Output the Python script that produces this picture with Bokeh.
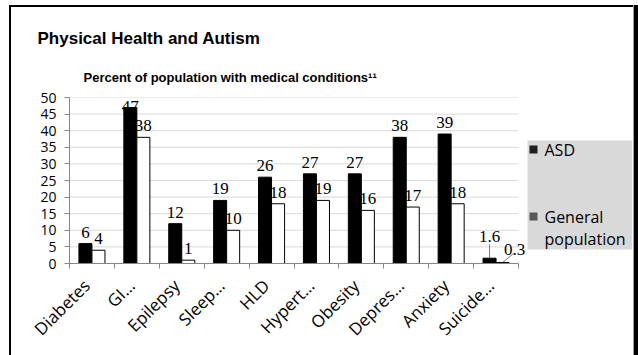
from bokeh.plotting import figure
from bokeh.models import (ColumnDataSource, Range1d, LinearAxis, FixedTicker, LabelSet,
                          Label, BoxAnnotation, Title, Grid)
from bokeh.transform import dodge
from bokeh.embed import file_html
from bokeh.resources import INLINE
import math

# ---------------- data ----------------
categories = ["Diabetes", "GI…", "Epilepsy", "Sleep…", "HLD", "Hypert…",
              "Obesity", "Depres…", "Anxiety", "Suicide…"]
asd = [6, 47, 12, 19, 26, 27, 27, 38, 39, 1.6]
general = [4, 38, 1, 10, 18, 19, 16, 17, 18, 0.3]
asd_text = ["6", "47", "12", "19", "26", "27", "27", "38", "39", "1.6"]
general_text = ["4", "38", "1", "10", "18", "19", "16", "17", "18", "0.3"]
y_ticks = [0, 5, 10, 15, 20, 25, 30, 35, 40, 45, 50]
series_names = ["ASD", "General population"]
title_text = "Physical Health and Autism"
subtitle_text = "Percent of population with medical conditions¹¹"

# ---------------- layout ----------------
W, H = 638, 355
FL, FR, FT, FB = 69, 518, 97, 263   # chart-area edges (canvas px)
FR_EXT = 632                        # frame extended to hold the legend
plot_h = FB - FT
px_per_unit = plot_h / 50.0
n = len(categories)
px_per_cat = (FR - FL) / n
x_end = n * (FR_EXT - FL) / (FR - FL)
xpos = [i + 0.5 for i in range(n)]            # category centres on a 0..n axis
bounds = list(range(n + 1))                   # category boundaries
label_pos = [round(x - 0.12, 2) for x in xpos]  # rotated-label anchors

FONT = "Open Sans"

def dx(cx):   # canvas px -> x data
    return (cx - FL) / px_per_cat

def dy(cy):   # canvas px -> y data
    return (FB - cy) / px_per_unit

p = figure(width=W, height=H,
           x_range=Range1d(0, x_end), y_range=Range1d(0, 50),
           output_backend="svg", toolbar_location=None,
           x_axis_location=None, y_axis_location=None,
           min_border_left=FL, min_border_right=W - FR_EXT,
           min_border_top=FT, min_border_bottom=H - FB)
# drop the default grids (they would span the legend area too)
p.center = [r for r in p.center if not isinstance(r, Grid)]
p.outline_line_color = None
p.background_fill_color = "white"
p.border_fill_alpha = 0
# slide frame lines (CSS inset shadows, outside the plot frame)
p.styles = {
    "background-color": "white",
    "box-shadow": ("inset 9px 5px 0 0 white, inset -4px 0 0 0 black, "
                   "inset -5px 0 0 0 #a0a0a0, inset 11px 7px 0 0 black"),
}

# gridlines, limited to the category area
p.segment(x0=[0] * len(y_ticks), x1=[n] * len(y_ticks), y0=y_ticks, y1=y_ticks,
          line_color="#d9d9d9", line_width=1, level="underlay")

# y axis
yax = LinearAxis(ticker=FixedTicker(ticks=y_ticks),
                 axis_line_color="#868686", major_tick_line_color="#868686",
                 major_tick_out=5, major_tick_in=0, minor_tick_line_color=None,
                 major_label_text_font=FONT, major_label_text_font_size="14px",
                 major_label_text_color="black", major_label_standoff=8)
p.add_layout(yax, "left")

# x axis: labels near category centres, tick marks at boundaries
xax = LinearAxis(ticker=FixedTicker(ticks=label_pos, minor_ticks=bounds), bounds=(0, n),
                 major_label_overrides={x: c for x, c in zip(label_pos, categories)},
                 axis_line_color="#868686", major_tick_line_color=None,
                 minor_tick_line_color="#868686", minor_tick_out=5, minor_tick_in=0,
                 major_label_orientation=math.pi / 4,
                 major_label_text_font=FONT, major_label_text_font_size="17px",
                 major_label_text_color="black", major_label_standoff=13)
p.add_layout(xax, "below")

# bars
bw = 0.29
src = ColumnDataSource(dict(x=xpos, cat=categories, asd=asd, general=general))
p.vbar(x=dodge("x", -bw / 2), top="asd", width=bw,
       fill_color="black", line_color="black", source=src)
p.vbar(x=dodge("x", bw / 2), top="general", width=bw,
       fill_color="white", line_color="black", line_width=1, source=src)

# data labels
LABEL_SIZE = 17
def label_offset(v):
    top_px = v * px_per_unit
    return min(6, (plot_h + 3 - LABEL_SIZE) - top_px)

asd_dx = [0] * n
asd_dy = [label_offset(v) for v in asd]
gen_dx = [0] * n
gen_dy = [label_offset(v) for v in general]
# last category: labels pushed aside with leader lines
asd_dy[-1] += 10
gen_dx[-1] += 12
gen_dy[-1] += 2

lab_src = ColumnDataSource(dict(x=xpos, asd=asd, general=general,
                                asd_text=asd_text, general_text=general_text,
                                asd_dx=asd_dx, asd_dy=asd_dy, gen_dx=gen_dx, gen_dy=gen_dy))
p.add_layout(LabelSet(x=dodge("x", -bw / 2), y="asd", text="asd_text",
                      x_offset="asd_dx", y_offset="asd_dy", source=lab_src,
                      text_align="center", text_baseline="bottom",
                      text_font=FONT, text_font_size=f"{LABEL_SIZE}px", text_color="black"))
p.add_layout(LabelSet(x=dodge("x", bw / 2), y="general", text="general_text",
                      x_offset="gen_dx", y_offset="gen_dy", source=lab_src,
                      text_align="center", text_baseline="bottom",
                      text_font=FONT, text_font_size=f"{LABEL_SIZE}px", text_color="black"))

# leader lines for the last category
xa = xpos[-1] - bw / 2
xg = xpos[-1] + bw / 2
p.segment(x0=[xa, xg], y0=[asd[-1], general[-1]],
          x1=[xa, xg + 11 / px_per_cat],
          y1=[asd[-1] + 14 / px_per_unit, general[-1] + 9 / px_per_unit],
          line_color="#595959", line_width=0.8)

# titles (first added sits nearest the frame)
p.add_layout(Title(text=subtitle_text, align="left", offset=14,
                   text_font="Liberation Sans", text_font_style="bold",
                   text_font_size="13px", text_color="black", standoff=25), "above")
p.add_layout(Title(text=title_text, align="left", offset=-32,
                   text_font="Liberation Sans", text_font_style="bold",
                   text_font_size="17px", text_color="black", standoff=16), "above")

# legend (drawn inside the extended frame, right of the categories)
def box(l, r, t, b, c):
    p.add_layout(BoxAnnotation(left=dx(l), right=dx(r), top=dy(t), bottom=dy(b),
                               fill_color=c, fill_alpha=1, line_color=None,
                               level="underlay"))

box(527, FR_EXT, 140, 249, "#d9d9d9")
box(529, 537, 145, 153, "#1f1f1f")
box(529, 537, 212, 220, "#595959")
gen_words = series_names[1].split(" ")
for txt, cy in [(series_names[0], 149), (gen_words[0], 216), (gen_words[1], 238)]:
    p.add_layout(Label(x=dx(544), y=dy(cy), text=txt, text_font=FONT,
                       text_font_size="16px", text_baseline="middle", text_color="black"))

open("out.html", "w").write(file_html(p, INLINE))
